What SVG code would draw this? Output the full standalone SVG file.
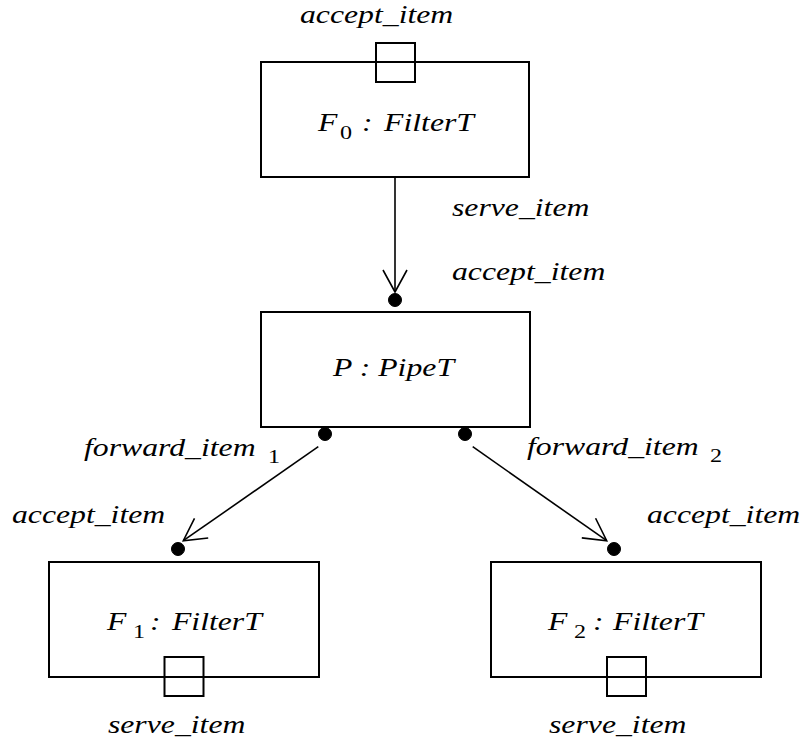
<svg xmlns="http://www.w3.org/2000/svg" width="803" height="744" viewBox="0 0 803 744">
<style>
.box{fill:none;stroke:#000;stroke-width:2}
.port{fill:none;stroke:#000;stroke-width:2}
.dot{fill:#000;stroke:#000;stroke-width:1}
.conn{fill:none;stroke:#000;stroke-width:1.6}
text{font-family:"Liberation Serif","Times New Roman",serif;font-style:italic;font-size:25px;fill:#000}
.sub{font-size:19px;font-style:normal}
</style>
<defs>
<marker id="arr" markerUnits="userSpaceOnUse" markerWidth="30" markerHeight="30" refX="0" refY="0" viewBox="-25 -15 30 30" orient="auto" overflow="visible">
<path d="M -22 -12 L 0 0 L -22 12" fill="none" stroke="#000" stroke-width="1.6"/>
</marker>
</defs>
<rect width="803" height="744" fill="#fff"/>
<g id="connectors">
<line class="conn" x1="395" y1="177" x2="395" y2="292" marker-end="url(#arr)"/>
<line class="conn" x1="318.3" y1="446.7" x2="183.3" y2="540.7" marker-end="url(#arr)"/>
<line class="conn" x1="472.7" y1="446.7" x2="606.7" y2="540.7" marker-end="url(#arr)"/>
</g>
<g id="F0">
<rect class="box" x="261" y="62" width="268" height="115"/>
<rect class="port" x="376" y="43" width="39" height="39"/>
<text transform="scale(1.27 1)" x="236.2" y="23">accept_item</text>
<text transform="scale(1.27 1)" x="250.4" y="131">F<tspan class="sub" x="267.7" y="139">0</tspan><tspan x="285.0" y="131">:</tspan><tspan x="302.4" y="131">FilterT</tspan></text>
<text transform="scale(1.27 1)" x="355.9" y="216">serve_item</text>
</g>
<g id="P">
<rect class="box" x="261" y="312" width="269" height="115"/>
<circle class="dot" cx="395" cy="300" r="6.5"/>
<circle class="dot" cx="325" cy="434" r="6.5"/>
<circle class="dot" cx="465" cy="434" r="6.5"/>
<text transform="scale(1.27 1)" x="355.9" y="280">accept_item</text>
<text transform="scale(1.27 1)" x="262.2" y="376">P : PipeT</text>
<text transform="scale(1.27 1)" x="66.1" y="456">forward_item<tspan class="sub" x="211.0" y="463">1</tspan></text>
<text transform="scale(1.27 1)" x="415.0" y="455">forward_item<tspan class="sub" x="559.1" y="462">2</tspan></text>
</g>
<g id="F1">
<rect class="box" x="49" y="562" width="270" height="115"/>
<circle class="dot" cx="178" cy="549" r="6.5"/>
<rect class="port" x="164.5" y="657" width="39" height="39"/>
<text transform="scale(1.27 1)" x="9.4" y="523">accept_item</text>
<text transform="scale(1.27 1)" x="84.3" y="630">F<tspan class="sub" x="104.7" y="638">1</tspan><tspan x="118.1" y="630">:</tspan><tspan x="135.4" y="630">FilterT</tspan></text>
<text transform="scale(1.27 1)" x="85.0" y="733">serve_item</text>
</g>
<g id="F2">
<rect class="box" x="491" y="562" width="270" height="115"/>
<circle class="dot" cx="614" cy="549" r="6.5"/>
<rect class="port" x="607" y="657" width="39" height="39"/>
<text transform="scale(1.27 1)" x="509.4" y="523">accept_item</text>
<text transform="scale(1.27 1)" x="431.5" y="630">F<tspan class="sub" x="452.0" y="638">2</tspan><tspan x="466.9" y="630">:</tspan><tspan x="482.7" y="630">FilterT</tspan></text>
<text transform="scale(1.27 1)" x="432.3" y="733">serve_item</text>
</g>
</svg>
